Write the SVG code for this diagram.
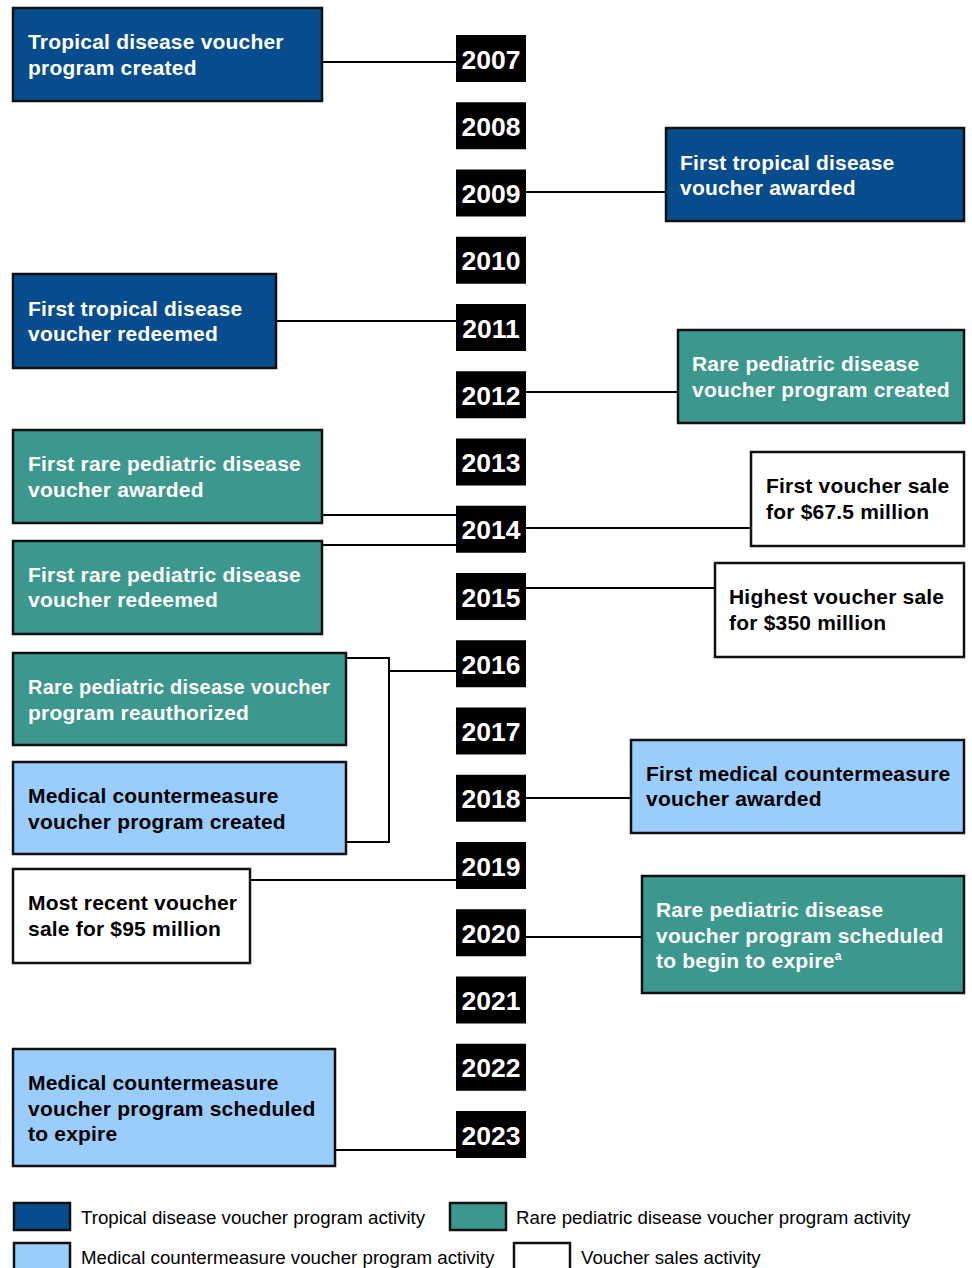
<svg xmlns="http://www.w3.org/2000/svg" width="972" height="1268" viewBox="0 0 972 1268">
<style>
.yr{fill:#000}
.yt{font-family:"Liberation Sans",Arial,sans-serif;font-weight:bold;font-size:26.5px;fill:#fff;text-anchor:middle}
.bx{stroke:#111;stroke-width:2.5}
.nv{fill:#074C8C}
.tl{fill:#3C978D}
.lb{fill:#9ACCFC}
.wh{fill:#fff}
.t{font-family:"Liberation Sans",Arial,sans-serif;font-weight:bold;font-size:21px;letter-spacing:0.2px}
.tw{fill:#fff}
.tk{fill:#000}
.ln{stroke:#000;stroke-width:2;fill:none}
.lg{font-family:"Liberation Sans",Arial,sans-serif;font-size:18.7px;fill:#000}
</style>
<rect width="972" height="1268" fill="#fff"/>
<g id="connectors">
<path class="ln" d="M322 62H456"/>
<path class="ln" d="M526 192H666"/>
<path class="ln" d="M276 321H456"/>
<path class="ln" d="M526 392H678"/>
<path class="ln" d="M322 515H456"/>
<path class="ln" d="M526 528H751"/>
<path class="ln" d="M322 545H456"/>
<path class="ln" d="M526 588H715"/>
<path class="ln" d="M346 658H389V842H346M389 671H456"/>
<path class="ln" d="M526 798H631"/>
<path class="ln" d="M250 880H456"/>
<path class="ln" d="M526 937H642"/>
<path class="ln" d="M335 1150H456"/>
</g>
<g id="years">
<g id="y2007"><rect class="yr" x="456" y="35" width="70" height="47"/><text class="yt" x="491" y="68.5">2007</text></g>
<g id="y2008"><rect class="yr" x="456" y="102.25" width="70" height="47"/><text class="yt" x="491" y="135.75">2008</text></g>
<g id="y2009"><rect class="yr" x="456" y="169.5" width="70" height="47"/><text class="yt" x="491" y="203">2009</text></g>
<g id="y2010"><rect class="yr" x="456" y="236.75" width="70" height="47"/><text class="yt" x="491" y="270.25">2010</text></g>
<g id="y2011"><rect class="yr" x="456" y="304" width="70" height="47"/><text class="yt" x="491" y="337.5">2011</text></g>
<g id="y2012"><rect class="yr" x="456" y="371.25" width="70" height="47"/><text class="yt" x="491" y="404.75">2012</text></g>
<g id="y2013"><rect class="yr" x="456" y="438.5" width="70" height="47"/><text class="yt" x="491" y="472">2013</text></g>
<g id="y2014"><rect class="yr" x="456" y="505.75" width="70" height="47"/><text class="yt" x="491" y="539.25">2014</text></g>
<g id="y2015"><rect class="yr" x="456" y="573" width="70" height="47"/><text class="yt" x="491" y="606.5">2015</text></g>
<g id="y2016"><rect class="yr" x="456" y="640.25" width="70" height="47"/><text class="yt" x="491" y="673.75">2016</text></g>
<g id="y2017"><rect class="yr" x="456" y="707.5" width="70" height="47"/><text class="yt" x="491" y="741">2017</text></g>
<g id="y2018"><rect class="yr" x="456" y="774.75" width="70" height="47"/><text class="yt" x="491" y="808.25">2018</text></g>
<g id="y2019"><rect class="yr" x="456" y="842" width="70" height="47"/><text class="yt" x="491" y="875.5">2019</text></g>
<g id="y2020"><rect class="yr" x="456" y="909.25" width="70" height="47"/><text class="yt" x="491" y="942.75">2020</text></g>
<g id="y2021"><rect class="yr" x="456" y="976.5" width="70" height="47"/><text class="yt" x="491" y="1010">2021</text></g>
<g id="y2022"><rect class="yr" x="456" y="1043.75" width="70" height="47"/><text class="yt" x="491" y="1077.25">2022</text></g>
<g id="y2023"><rect class="yr" x="456" y="1111" width="70" height="47"/><text class="yt" x="491" y="1144.5">2023</text></g>
</g>
<g id="n1"><rect class="bx nv" x="13" y="8" width="309" height="93"/><text class="t tw" x="28" y="49">Tropical disease voucher</text><text class="t tw" x="28" y="75">program created</text></g>
<g id="n2"><rect class="bx nv" x="666" y="128" width="298" height="93"/><text class="t tw" x="680" y="170">First tropical disease</text><text class="t tw" x="680" y="195">voucher awarded</text></g>
<g id="n3"><rect class="bx nv" x="13" y="274" width="263" height="94"/><text class="t tw" x="28" y="316">First tropical disease</text><text class="t tw" x="28" y="341">voucher redeemed</text></g>
<g id="n4"><rect class="bx tl" x="678" y="330" width="286" height="93"/><text class="t tw" x="692" y="371">Rare pediatric disease</text><text class="t tw" x="692" y="397">voucher program created</text></g>
<g id="n5"><rect class="bx tl" x="13" y="430" width="309" height="93"/><text class="t tw" x="28" y="471">First rare pediatric disease</text><text class="t tw" x="28" y="497">voucher awarded</text></g>
<g id="n6"><rect class="bx wh" x="751" y="452" width="213" height="94"/><text class="t tk" x="766" y="493">First voucher sale</text><text class="t tk" x="766" y="519">for $67.5 million</text></g>
<g id="n7"><rect class="bx tl" x="13" y="541" width="309" height="93"/><text class="t tw" x="28" y="582">First rare pediatric disease</text><text class="t tw" x="28" y="607">voucher redeemed</text></g>
<g id="n8"><rect class="bx wh" x="715" y="563" width="249" height="94"/><text class="t tk" x="729" y="604">Highest voucher sale</text><text class="t tk" x="729" y="630">for $350 million</text></g>
<g id="n9"><rect class="bx tl" x="13" y="653" width="333" height="92"/><text class="t tw" x="28" y="694" textLength="302" lengthAdjust="spacingAndGlyphs">Rare pediatric disease voucher</text><text class="t tw" x="28" y="720">program reauthorized</text></g>
<g id="n10"><rect class="bx lb" x="13" y="762" width="333" height="92"/><text class="t tk" x="28" y="803">Medical countermeasure</text><text class="t tk" x="28" y="829">voucher program created</text></g>
<g id="n11"><rect class="bx lb" x="631" y="740" width="333" height="93"/><text class="t tk" x="646" y="781">First medical countermeasure</text><text class="t tk" x="646" y="806">voucher awarded</text></g>
<g id="n12"><rect class="bx wh" x="13" y="869" width="237" height="94"/><text class="t tk" x="28" y="910">Most recent voucher</text><text class="t tk" x="28" y="936">sale for $95 million</text></g>
<g id="n13"><rect class="bx tl" x="642" y="876" width="322" height="117"/><text class="t tw" x="656" y="917">Rare pediatric disease</text><text class="t tw" x="656" y="943">voucher program scheduled</text><text class="t tw" x="656" y="968">to begin to expire<tspan font-size="12" dy="-8">a</tspan></text></g>
<g id="n14"><rect class="bx lb" x="13" y="1049" width="322" height="117"/><text class="t tk" x="28" y="1090">Medical countermeasure</text><text class="t tk" x="28" y="1116">voucher program scheduled</text><text class="t tk" x="28" y="1141">to expire</text></g>
<g id="legend">
<rect class="bx nv" x="14" y="1203" width="56" height="27" stroke-width="1.5"/><text class="lg" x="81" y="1224">Tropical disease voucher program activity</text>
<rect class="bx tl" x="450" y="1203" width="56" height="27" stroke-width="1.5"/><text class="lg" x="516" y="1224">Rare pediatric disease voucher program activity</text>
<rect class="bx lb" x="14" y="1243" width="56" height="27" stroke-width="1.5"/><text class="lg" x="81" y="1264">Medical countermeasure voucher program activity</text>
<rect class="bx wh" x="514" y="1243" width="56" height="27" stroke-width="1.5"/><text class="lg" x="581" y="1264">Voucher sales activity</text>
</g>
</svg>
